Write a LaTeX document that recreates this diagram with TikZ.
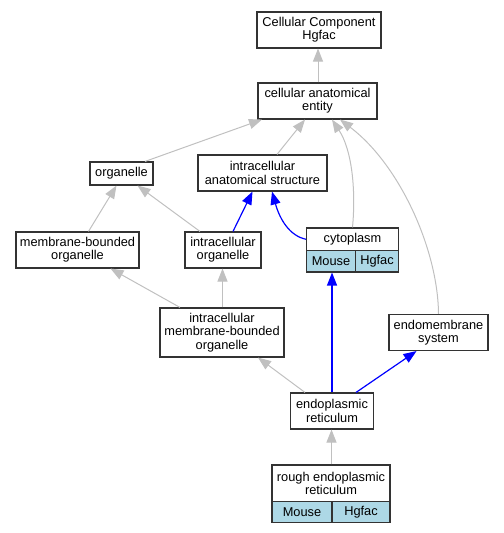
\documentclass[tikz,border=0pt]{standalone}
\usepackage{fontspec}
\setmainfont{Liberation Sans}
\usetikzlibrary{arrows.meta}
\definecolor{edgegray}{HTML}{C0C0C0}
\definecolor{lblue}{HTML}{ADD8E6}
\definecolor{boxline}{HTML}{333333}
\begin{document}
\begin{tikzpicture}[x=1bp,y=-1bp,
  box/.style={draw=boxline, line width=1.1bp, fill=white, rectangle, inner sep=0pt, align=center, font=\fontsize{12.8bp}{13.3bp}\selectfont},
  cell/.style={box, fill=lblue},
  garr/.style={draw=edgegray, line width=1bp, -{Triangle[length=13bp,width=10bp]}},
  barr/.style={draw=blue, line width=1.2bp, -{Triangle[length=13bp,width=10bp]}}]
\useasboundingbox (0,0) rectangle (504,533);
% nodes
\node[box, minimum width=124bp, minimum height=36bp] (cc) at (319,30) {Cellular Component\\Hgfac};
\node[box, minimum width=119bp, minimum height=36bp] (cae) at (317.5,101) {cellular anatomical\\entity};
\node[box, minimum width=63bp, minimum height=23bp] (org) at (121.5,173.5) {organelle};
\node[box, minimum width=129bp, minimum height=36bp] (ias) at (262.5,173) {intracellular\\anatomical structure};
\node[box, minimum width=123bp, minimum height=36bp] (mbo) at (77.5,250) {membrane-bounded\\organelle};
\node[box, minimum width=76bp, minimum height=36bp] (io) at (223,250) {intracellular\\organelle};
\node[box, minimum width=92bp, minimum height=22.5bp] (cyto) at (352.5,239.25) {cytoplasm};
\node[cell, minimum width=49bp, minimum height=21.5bp] (cytomouse) at (331,261.25) {Mouse};
\node[cell, minimum width=43bp, minimum height=21.5bp] (cytohgfac) at (377,261.25) {Hgfac};
\node[box, minimum width=124bp, minimum height=49bp] (imbo) at (222,332.5) {intracellular\\membrane-bounded\\organelle};
\node[box, minimum width=99bp, minimum height=36bp] (ems) at (438.5,332.5) {endomembrane\\system};
\node[box, minimum width=83bp, minimum height=36bp] (er) at (332,411) {endoplasmic\\reticulum};
\node[box, minimum width=118bp, minimum height=36.5bp] (rer) at (331,483.25) {rough endoplasmic\\reticulum};
\node[cell, minimum width=60bp, minimum height=21bp] (rermouse) at (302,512) {Mouse};
\node[cell, minimum width=58bp, minimum height=21bp] (rerhgfac) at (361,512) {Hgfac};
% edges
\draw[garr] ([xshift=0.5bp]cae.north) -- ([xshift=0.5bp]cae.north |- cc.south);
\draw[garr] ([xshift=23.5bp]org.north) -- ([xshift=-55.5bp]cae.south);
\draw[garr] ([xshift=14.5bp]ias.north) -- ([xshift=-12.5bp]cae.south);
\draw[garr] (cyto.north) .. controls (356,190) and (352,150) .. ([xshift=14.5bp]cae.south);
\draw[garr] (ems.north) .. controls (438,250) and (400,165) .. ([xshift=22.5bp]cae.south);
\draw[garr] ([xshift=11bp]mbo.north) -- ([xshift=-5bp]org.south);
\draw[garr] ([xshift=-23bp]io.north) -- ([xshift=16bp]org.south);
\draw[barr] ([xshift=10bp]io.north) -- ([xshift=-10bp]ias.south);
\draw[barr] (cyto.west) .. controls (290,236) and (280,220) .. ([xshift=9.5bp]ias.south);
\draw[garr] ([xshift=-42bp]imbo.north) -- ([xshift=33bp]mbo.south);
\draw[garr] ([xshift=0.5bp]imbo.north) -- ([xshift=0.5bp]imbo.north |- io.south);
\draw[garr] ([xshift=-27bp]er.north) -- ([xshift=36bp]imbo.south);
\draw[barr] (er.north) -- (er.north |- cytomouse.south);
\draw[barr] ([xshift=24bp]er.north) -- ([xshift=-22bp]ems.south);
\draw[garr] ([xshift=0.5bp]rer.north) -- ([xshift=0.5bp]rer.north |- er.south);
\end{tikzpicture}
\end{document}
